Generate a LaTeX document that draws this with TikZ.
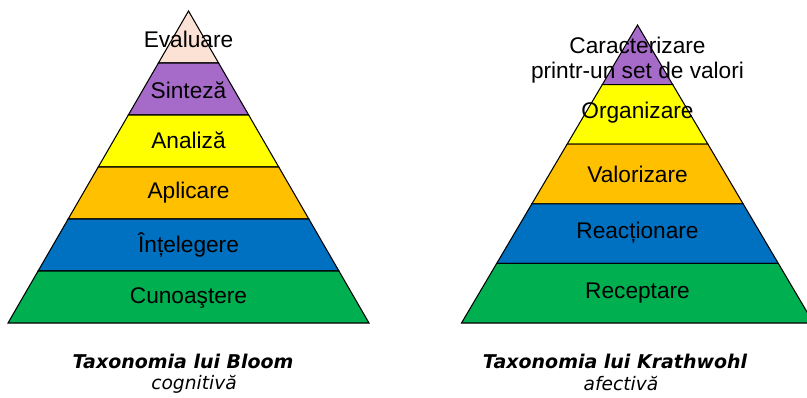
\documentclass[tikz,border=0pt]{standalone}
\usepackage{fontspec}
\setmainfont{Liberation Sans}
\newfontfamily\capfont{DejaVu Sans}
\usetikzlibrary{calc}

\definecolor{tpeach}{HTML}{FBE2D5}
\definecolor{tpurple}{HTML}{A66BC9}
\definecolor{tyellow}{HTML}{FFFF00}
\definecolor{torange}{HTML}{FFC000}
\definecolor{tblue}{HTML}{0070C0}
\definecolor{tgreen}{HTML}{00B050}

\begin{document}
\begin{tikzpicture}[x=0.02cm, y=-0.02cm,
  band/.style={draw=black, line width=0.6pt},
  lvl/.style={font=\fontsize{12.9}{14.2}\selectfont, align=center, inner sep=0pt},
  ttl/.style={font=\capfont\bfseries\itshape\fontsize{10.8}{12}\selectfont, inner sep=0pt},
  sub/.style={font=\capfont\itshape\fontsize{10.6}{12}\selectfont, inner sep=0pt}]
\clip (0,0) rectangle (807,397);

% Bloom: six bands of equal height
\coordinate (ba) at (188.5,11);
\coordinate (bl) at (8,323);
\coordinate (br) at (369,323);
\foreach \i/\c in {0/tpeach,1/tpurple,2/tyellow,3/torange,4/tblue,5/tgreen} {
  \pgfmathsetmacro\s{\i/6}
  \pgfmathsetmacro\t{(\i+1)/6}
  \path[band, fill=\c] ($(ba)!\s!(bl)$) -- ($(ba)!\t!(bl)$)
    -- ($(ba)!\t!(br)$) -- ($(ba)!\s!(br)$) -- cycle;
}
\node[lvl] (evaluare) at (188.5,39) {Evaluare};
\node[lvl] (sinteza) at (188.5,90) {Sinteză};
\node[lvl] (analiza) at (188.5,140) {Analiză};
\node[lvl] (aplicare) at (188.5,193) {Aplicare};
\node[lvl] (intelegere) at (188.5,245) {Înțelegere};
\node[lvl] (cunoastere) at (188.5,298) {Cunoaştere};

% Krathwohl: five bands
\coordinate (ka) at (637.5,25);
\coordinate (kl) at (461.5,323);
\coordinate (kr) at (813.5,323);
\foreach \i/\c in {0/tpurple,1/tyellow,2/torange,3/tblue,4/tgreen} {
  \pgfmathsetmacro\s{\i/5}
  \pgfmathsetmacro\t{(\i+1)/5}
  \path[band, fill=\c] ($(ka)!\s!(kl)$) -- ($(ka)!\t!(kl)$)
    -- ($(ka)!\t!(kr)$) -- ($(ka)!\s!(kr)$) -- cycle;
}
\node[lvl] (caracterizare) at (637.5,60) {Caracterizare\\printr-un set de valori};
\node[lvl] (organizare) at (637.5,113) {Organizare};
\node[lvl] (valorizare) at (637.5,174) {Valorizare};
\node[lvl] (reactionare) at (637.5,233) {Reacționare};
\node[lvl] (receptare) at (637.5,293) {Receptare};

% captions
\node[ttl] (bloom) at (183,361) {Taxonomia lui Bloom};
\node[sub] (bloomsub) at (194,384) {cognitivă};
\node[ttl] (krathwohl) at (615,361) {Taxonomia lui Krathwohl};
\node[sub] (krathwohlsub) at (621,384) {afectivă};
\end{tikzpicture}
\end{document}
